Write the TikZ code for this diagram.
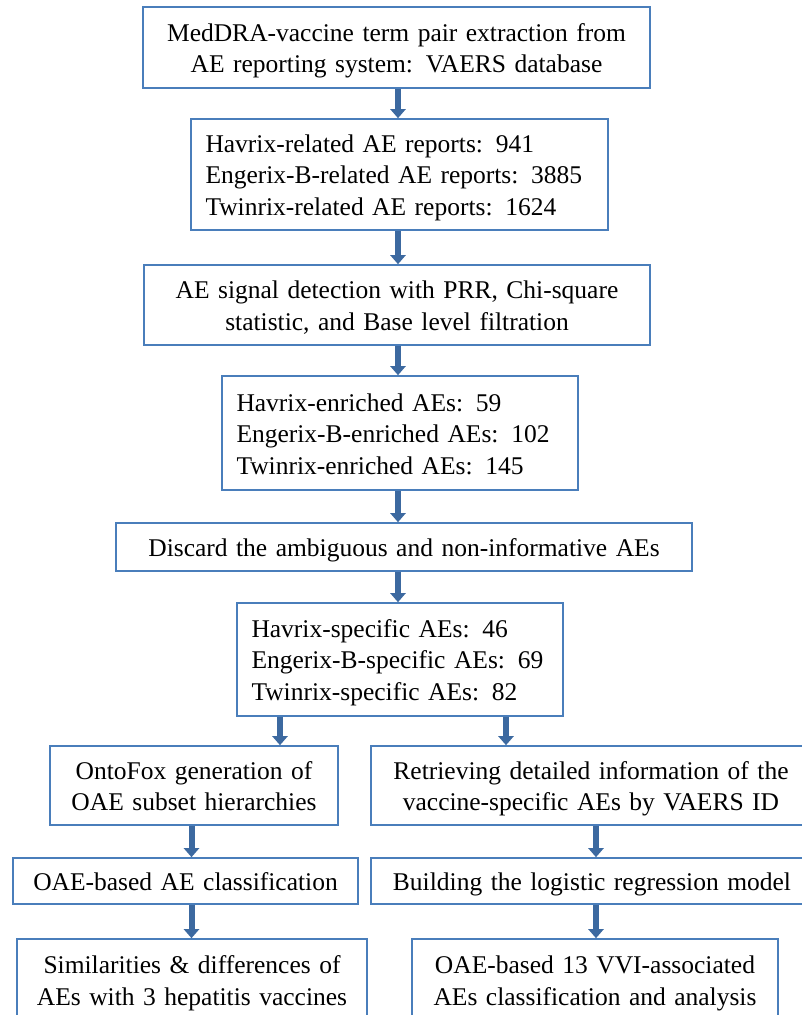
\documentclass[tikz,border=0pt]{standalone}
\usepackage{fontspec}
\setmainfont{Liberation Serif}
\usetikzlibrary{arrows.meta}
\definecolor{boxblue}{HTML}{4A7EBB}
\definecolor{arrblue}{HTML}{3C69A0}
\newcommand\hst{\rule{0pt}{24pt}}
\newcommand\dst{\rule[-5pt]{0pt}{5pt}}
\newcommand\onel[1]{\mbox{#1}}
\begin{document}
\begin{tikzpicture}[x=1pt,y=-1pt,
  basebox/.style={draw=boxblue, line width=1.6pt, fill=white, inner ysep=0pt,
    font=\fontsize{25.5}{31.5}\selectfont},
  cbox/.style={basebox, inner xsep=0pt, align=center},
  lbox/.style={basebox, inner xsep=14.5pt, align=left},
  arr/.style={draw=arrblue, line width=6pt, -{Triangle[width=15pt,length=9pt]}}]
\useasboundingbox (0,0) rectangle (802,1015);
\clip (0,0) rectangle (802,1015);

\node[cbox, minimum width=507pt, minimum height=81pt, text width=500pt] (b1) at (396.5,47.5)
  {\hst MedDRA-vaccine term pair extraction from\\AE reporting system: VAERS database\dst};
\node[lbox, minimum width=417pt, minimum height=111pt, text width=388pt] (b2) at (399.5,174.5)
  {\hst\onel{Havrix-related AE reports: 941}\\\onel{Engerix-B-related AE reports: 3885}\\\onel{Twinrix-related AE reports: 1624}\dst};
\node[cbox, minimum width=506pt, minimum height=80pt, text width=500pt] (b3) at (397,305)
  {\hst AE signal detection with PRR, Chi-square\\statistic, and Base level filtration\dst};
\node[lbox, minimum width=356pt, minimum height=114pt, text width=327pt] (b4) at (400,433)
  {\hst\onel{Havrix-enriched AEs: 59}\\\onel{Engerix-B-enriched AEs: 102}\\\onel{Twinrix-enriched AEs: 145}\dst};
\node[cbox, minimum width=576pt, minimum height=48pt, text width=570pt] (b5) at (404,547)
  {\hst Discard the ambiguous and non-informative AEs\dst};
\node[lbox, minimum width=326pt, minimum height=113pt, text width=297pt] (b6) at (400,659.5)
  {\hst\onel{Havrix-specific AEs: 46}\\\onel{Engerix-B-specific AEs: 69}\\\onel{Twinrix-specific AEs: 82}\dst};
\node[cbox, minimum width=288pt, minimum height=79pt, text width=285pt] (b7l) at (194,785.5)
  {\hst OntoFox generation of\\OAE subset hierarchies\dst};
\node[cbox, minimum width=440pt, minimum height=79pt, text width=435pt] (b7r) at (591,785.5)
  {\hst Retrieving detailed information of the\\vaccine-specific AEs by VAERS ID\dst};
\node[cbox, minimum width=345pt, minimum height=46pt, text width=340pt] (b8l) at (185.5,881)
  {\hst OAE-based AE classification\dst};
\node[cbox, minimum width=442pt, minimum height=46pt, text width=438pt] (b8r) at (592,881)
  {\hst Building the logistic regression model\dst};
\node[cbox, minimum width=350pt, minimum height=82pt, text width=345pt] (b9l) at (192,980)
  {\hst Similarities \& differences of\\AEs with 3 hepatitis vaccines\dst};
\node[cbox, minimum width=366pt, minimum height=82pt, text width=360pt] (b9r) at (595,980)
  {\hst OAE-based 13 VVI-associated\\AEs classification and analysis\dst};

\coordinate (cx) at (398,0);
\coordinate (lx) at (280,0);
\coordinate (rx) at (506,0);
\coordinate (llx) at (191.5,0);
\coordinate (rrx) at (596,0);

\draw[arr] (b1.south -| cx) -- (b2.north -| cx);
\draw[arr] (b2.south -| cx) -- (b3.north -| cx);
\draw[arr] (b3.south -| cx) -- (b4.north -| cx);
\draw[arr] (b4.south -| cx) -- (b5.north -| cx);
\draw[arr] (b5.south -| cx) -- (b6.north -| cx);
\draw[arr] (b6.south -| lx) -- (b7l.north -| lx);
\draw[arr] (b6.south -| rx) -- (b7r.north -| rx);
\draw[arr] (b7l.south -| llx) -- (b8l.north -| llx);
\draw[arr] (b7r.south -| rrx) -- (b8r.north -| rrx);
\draw[arr] (b8l.south -| llx) -- (b9l.north -| llx);
\draw[arr] (b8r.south -| rrx) -- (b9r.north -| rrx);
\end{tikzpicture}
\end{document}
